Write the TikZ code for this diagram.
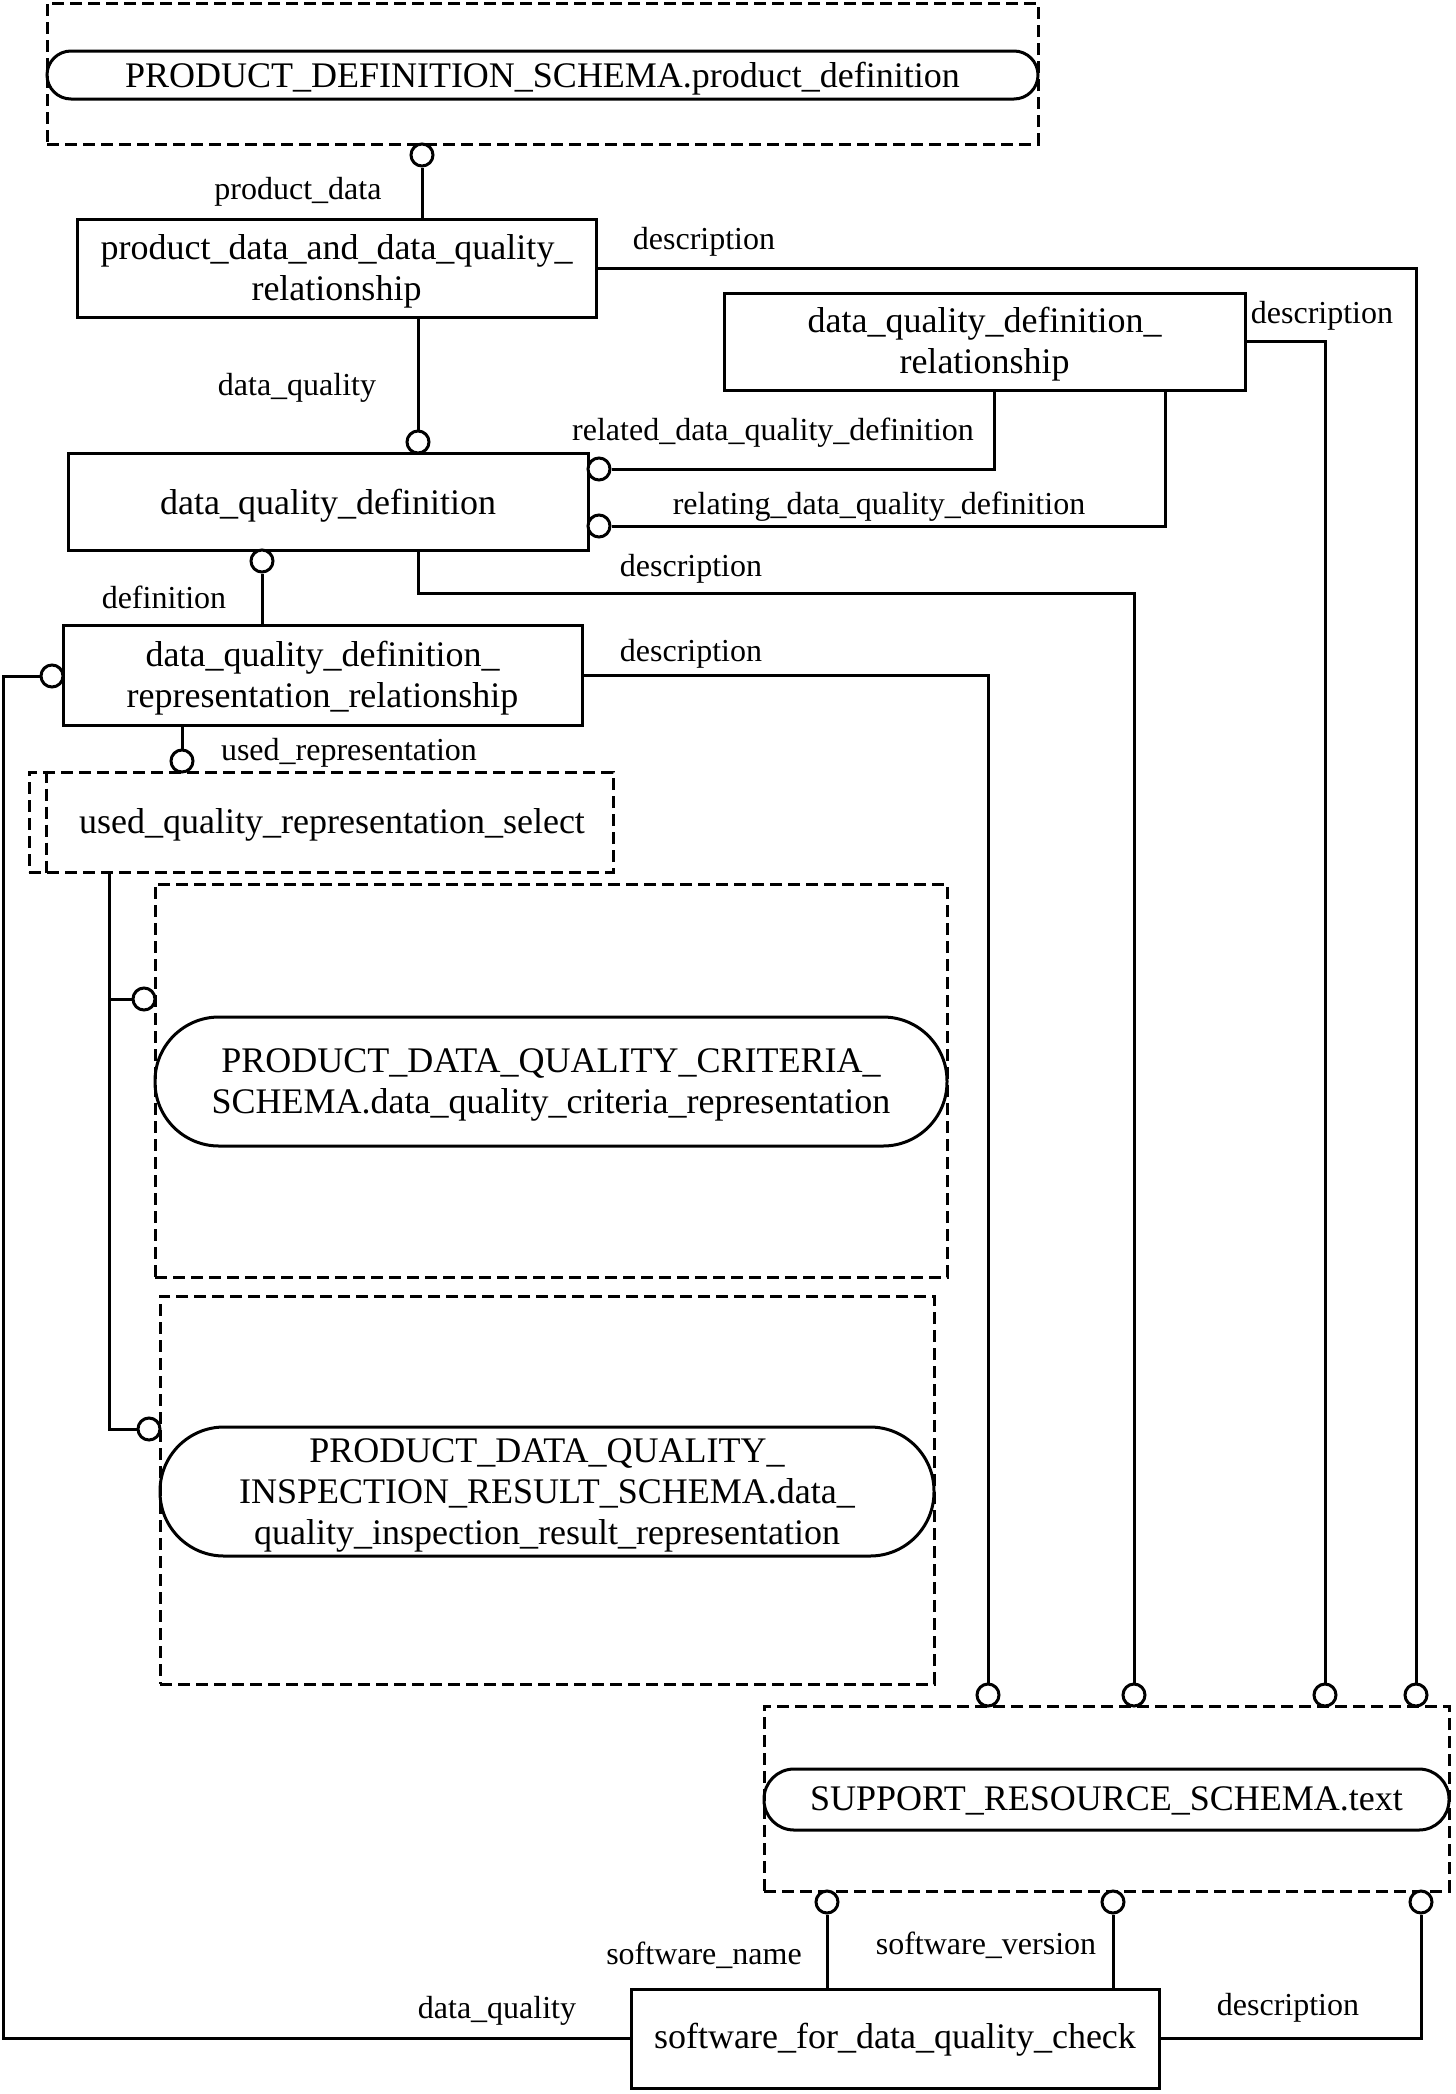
\documentclass[tikz,border=0pt]{standalone}
\usepackage{fontspec}
\setmainfont{Liberation Serif}
\usetikzlibrary{shapes.geometric}
\newcommand\mydown[1]{\rule{0pt}{\dimexpr\fontcharht\font`d+#1\relax}}
\begin{document}
\begin{tikzpicture}[x=0.5pt,y=-0.5pt,
  lw/.style={line width=1.5pt},
  ent/.style={draw,lw,inner sep=0pt,align=center,font=\fontsize{18}{20.5}\selectfont},
  dbox/.style={draw,lw,dash pattern=on 6pt off 3pt,inner sep=0pt,font=\fontsize{18}{20.5}\selectfont},
  pill/.style={draw,lw,inner sep=0pt,align=center,font=\fontsize{18}{20.5}\selectfont},
  oc/.style={circle,draw,lw,fill=white,inner sep=0pt,minimum size=11pt},
  lab/.style={inner sep=0pt,font=\fontsize{16}{18}\selectfont},
  every path/.style={lw}]
\useasboundingbox (0,0) rectangle (1456,2094);
% entities
\node[dbox,minimum width=495.5pt,minimum height=70.5pt] (pdo) at (542.5,73.5) {};
\node[pill,rounded corners=12pt,minimum width=495.5pt,minimum height=24pt] (pd) at (542.5,75) {\mydown{5pt}PRODUCT\_DEFINITION\_SCHEMA.product\_definition};
\node[ent,minimum width=259.5pt,minimum height=49pt] (pddq) at (336.5,268) {\mydown{4pt}product\_data\_and\_data\_quality\_\\relationship};
\node[ent,minimum width=260.5pt,minimum height=48.5pt] (dqdr) at (984.5,341.5) {\mydown{4pt}data\_quality\_definition\_\\relationship};
\node[ent,minimum width=260pt,minimum height=48.5pt] (dqd) at (328,501.5) {\mydown{5pt}data\_quality\_definition};
\node[ent,minimum width=259.5pt,minimum height=50pt] (dqdrr) at (322.5,675) {\mydown{4pt}data\_quality\_definition\_\\representation\_relationship};
\node[dbox,minimum width=292pt,minimum height=50pt] (uqrs) at (321,822) {\mydown{4pt}\hspace*{11pt}used\_quality\_representation\_select};
\draw[dash pattern=on 6pt off 3pt] ([xshift=9.5pt]uqrs.north west) -- ([xshift=9.5pt]uqrs.south west);
\node[dbox,minimum width=396pt,minimum height=196.5pt] (dc1) at (551,1080.5) {};
\node[pill,rounded corners=32pt,minimum width=396pt,minimum height=64.5pt] (p1) at (551,1081.5) {\mydown{4pt}PRODUCT\_DATA\_QUALITY\_CRITERIA\_\\SCHEMA.data\_quality\_criteria\_representation};
\node[dbox,minimum width=387pt,minimum height=194pt] (dc2) at (547,1490) {};
\node[pill,rounded corners=32pt,minimum width=387pt,minimum height=64.5pt] (p2) at (547,1491.5) {\mydown{4pt}PRODUCT\_DATA\_QUALITY\_\\INSPECTION\_RESULT\_SCHEMA.data\_\\quality\_inspection\_result\_representation};
\node[dbox,minimum width=342.5pt,minimum height=92.5pt] (srso) at (1106.5,1798.5) {};
\node[pill,rounded corners=15pt,minimum width=342.5pt,minimum height=30.5pt] (srs) at (1106.5,1799.5) {\mydown{1.5pt}SUPPORT\_RESOURCE\_SCHEMA.text};
\node[ent,minimum width=264pt,minimum height=49.5pt] (sw) at (895,2038.5) {\mydown{2.5pt}software\_for\_data\_quality\_check};
% circles
\node[oc] (c1) at (422,155) {};
\node[oc] (c2) at (418,442) {};
\node[oc] (c3) at (599,469) {};
\node[oc] (c4) at (599,526) {};
\node[oc] (c5) at (262,561) {};
\node[oc] (c6) at (52,676) {};
\node[oc] (c7) at (182,761) {};
\node[oc] (c8) at (144,999) {};
\node[oc] (c9) at (149,1429) {};
\node[oc] (c10) at (988,1695) {};
\node[oc] (c11) at (1134,1695) {};
\node[oc] (c12) at (1325,1695) {};
\node[oc] (c13) at (1416,1695) {};
\node[oc] (c14) at (827,1902) {};
\node[oc] (c15) at (1113,1902) {};
\node[oc] (c16) at (1421,1902) {};
% connectors
\draw (c1.south) -- (c1 |- pddq.north);
\draw (pddq.east) -| (c13.north);
\draw (dqdr.east) -| (c12.north);
\draw (c2 |- pddq.south) -- (c2.north);
\draw (c3.east) -| ([xshift=4.75pt]dqdr.south);
\draw (c4.east) -| ([xshift=90.25pt]dqdr.south);
\draw (c2 |- dqd.south) -- ++(0,42) -| (c11.north);
\draw (c5.south) -- (c5 |- dqdrr.north);
\draw (c6.west) -- ++(-36,0) |- (sw.west);
\draw (dqdrr.east) -| (c10.north);
\draw (c7 |- dqdrr.south) -- (c7.north);
\coordinate (sv) at ([xshift=41pt]uqrs.south west);
\draw (sv) |- (c9.west);
\draw (c8.west) -- (c8.west -| sv);
\draw (c14.south) -- (c14 |- sw.north);
\draw (c15.south) -- (c15 |- sw.north);
\draw (sw.east) -| (c16.south);
% labels
\node[lab] (l1) at (298,192) {product\_data};
\node[lab] (l2) at (704,242) {description};
\node[lab] (l3) at (1322,316) {description};
\node[lab] (l4) at (297,388) {data\_quality};
\node[lab] (l5) at (773,433) {related\_data\_quality\_definition};
\node[lab] (l6) at (879,507) {relating\_data\_quality\_definition};
\node[lab] (l7) at (691,569) {description};
\node[lab] (l8) at (164,597) {definition};
\node[lab] (l9) at (691,654) {description};
\node[lab] (l10) at (349,753) {used\_representation};
\node[lab] (l11) at (704,1955) {software\_name};
\node[lab] (l12) at (986,1945) {software\_version};
\node[lab] (l13) at (1288,2008) {description};
\node[lab] (l14) at (497,2011) {data\_quality};
\end{tikzpicture}
\end{document}
